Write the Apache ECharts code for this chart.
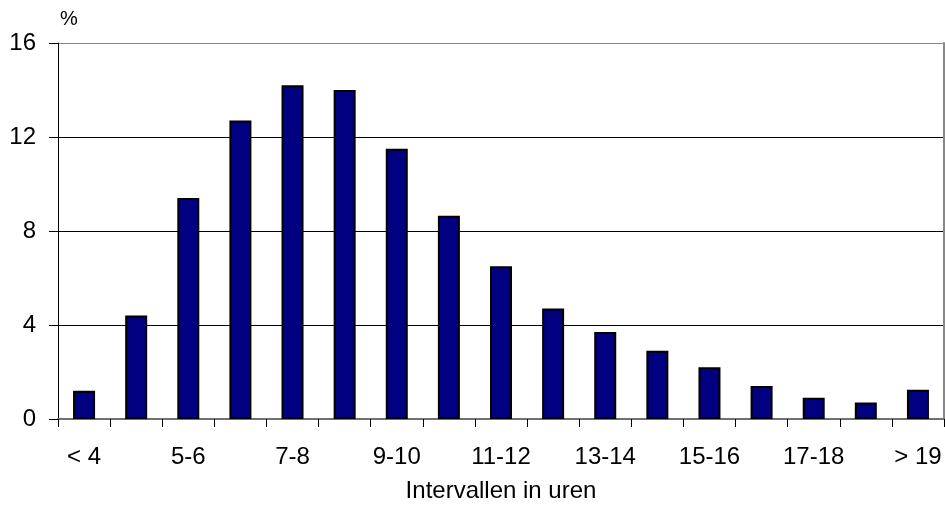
<!DOCTYPE html>
<html>
<head>
<meta charset="utf-8">
<script src="https://cdn.jsdelivr.net/npm/echarts@6/dist/echarts.min.js"></script>
<style>
  html, body { margin: 0; padding: 0; background: #fff; }
  #chart { width: 945px; height: 519px; }
</style>
</head>
<body>
<div id="chart"></div>
<script>
// Interval classes (hours) and share of cases per class (%)
const categories = ['< 4', '4-5', '5-6', '6-7', '7-8', '8-9', '9-10', '10-11', '11-12',
  '12-13', '13-14', '14-15', '15-16', '16-17', '17-18', '18-19', '> 19'];
const percentages = [1.2, 4.4, 9.4, 12.7, 14.2, 14.0, 11.5, 8.65, 6.5,
  4.7, 3.7, 2.9, 2.2, 1.4, 0.9, 0.7, 1.25];
const yTicks = [0, 4, 8, 12, 16];
const xTitle = 'Intervallen in uren';
const yTitle = '%';

const font = 'Liberation Sans, Arial, sans-serif';
const chart = echarts.init(document.getElementById('chart'), null, { renderer: 'canvas' });

chart.setOption({
  animation: false,
  backgroundColor: '#fff',
  grid: { left: 58, right: 1, top: 43, bottom: 100, containLabel: false },
  xAxis: {
    type: 'category',
    data: categories,
    boundaryGap: true,
    name: xTitle,
    nameLocation: 'middle',
    nameGap: 60,
    nameTextStyle: { fontFamily: font, fontSize: 24, color: '#000' },
    axisLine: { show: true, lineStyle: { color: '#707070', width: 2 } },
    axisTick: { show: true, interval: 0, length: 8, lineStyle: { color: '#000', width: 1 } },
    axisLabel: { interval: 1, margin: 26, fontFamily: font, fontSize: 24, color: '#000' },
    splitLine: { show: false }
  },
  yAxis: [{
    type: 'value',
    min: yTicks[0],
    max: yTicks[yTicks.length - 1],
    interval: yTicks[1] - yTicks[0],
    name: yTitle,
    nameLocation: 'end',
    nameGap: 14,
    nameTextStyle: { fontFamily: font, fontSize: 20, color: '#000', align: 'left', padding: [0, 0, 0, 2] },
    axisLine: { show: true, lineStyle: { color: '#000', width: 1 } },
    axisTick: { show: true, length: 9, lineStyle: { color: '#000', width: 1 } },
    axisLabel: { margin: 22, fontFamily: font, fontSize: 24, color: '#000' },
    splitLine: { show: true, lineStyle: { color: ['#707070', '#000', '#000', '#000', '#888'], width: 1 } }
  }, {
    type: 'value',
    position: 'right',
    min: yTicks[0],
    max: yTicks[yTicks.length - 1],
    interval: yTicks[1] - yTicks[0],
    axisLine: { show: true, lineStyle: { color: '#888', width: 2 } },
    axisTick: { show: false },
    axisLabel: { show: false },
    splitLine: { show: false }
  }],
  series: [{
    type: 'bar',
    data: percentages,
    barWidth: 22,
    itemStyle: { color: '#000080', borderColor: '#000', borderWidth: 2 }
  }]
});
</script>
</body>
</html>
